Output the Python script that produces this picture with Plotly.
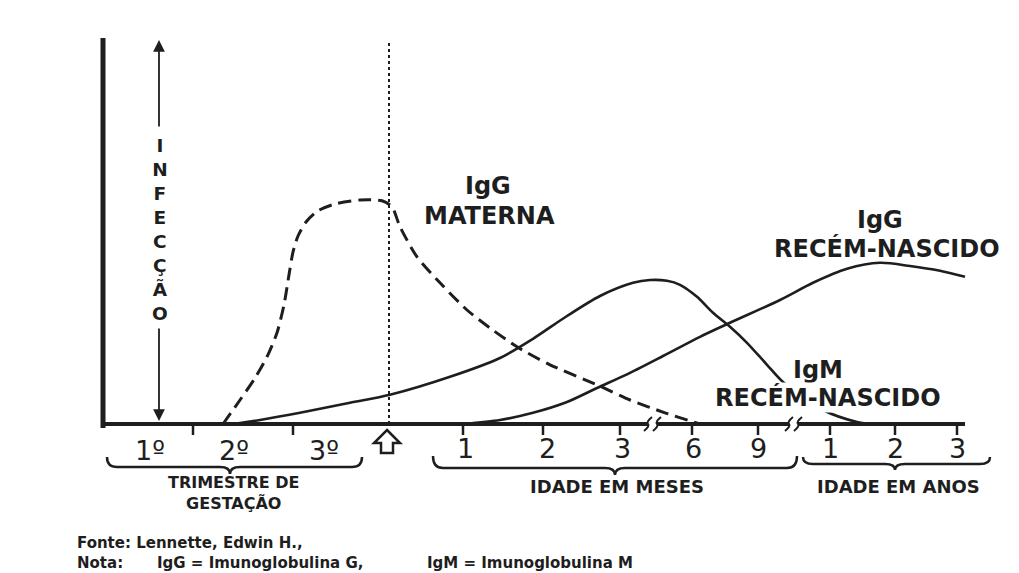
import plotly.graph_objects as go

# ---------------- data (timeline units on x, relative antibody level on y) -------------
igg_materna_x = [12.1, 13.8, 15.3, 16.5, 17.5, 18.2, 18.7, 19.1, 19.6, 20.4, 21.6, 23.3,
                 25.8, 28.0, 29.0, 29.8, 31.5, 33.8, 36.5, 38.8, 41.5, 44.8, 49.5, 52.8,
                 56.3, 59.8]
igg_materna_y = [0, 6, 11.5, 16.8, 22.8, 29.8, 37.3, 43, 47, 50.5, 53.3, 55,
                 56, 55.8, 54.3, 49.3, 41.8, 35.3, 28.5, 24, 19.3, 14.8, 9.8, 6,
                 2.8, 0]

igm_rn_x = [13.1, 15.8, 19.8, 24.8, 28.8, 34.8, 39.8, 43.1, 46.5, 49.8, 53.1, 54.8,
            56.5, 57.8, 59.5, 61.1, 62.8, 64.5, 66.5, 68.1, 72.1, 75.5, 76.8]
igm_rn_y = [0, 1, 2.8, 5.3, 7.3, 11.8, 16.5, 21.3, 27, 32, 35.3, 36,
            35.8, 34.8, 31.8, 27.8, 24.3, 20.3, 14.8, 10.5, 3.5, 0.5, 0]

igg_rn_x = [36.1, 39.8, 43.1, 46.5, 49.5, 52.8, 56.1, 59.8, 62.8, 67.8, 71.1, 74.5,
            77.8, 80.8, 83.8, 86.3]
igg_rn_y = [0, 1, 2.8, 5.5, 9, 12.8, 17, 21.8, 25.3, 31, 35.3, 38.8,
            40.3, 39.5, 38.3, 36.8]

tick_values = [9.1, 19.1, 36.1, 44.1, 51.8, 59.0, 65.6, 72.8, 79.3, 85.5]
trimester_labels = ["1º", "2º", "3º"]
trimester_label_x = [4.8, 13.2, 22.2]
month_labels = ["1", "2", "3", "6", "9"]
month_label_x = [36.3, 44.5, 52.0, 59.1, 65.6]
year_labels = ["1", "2", "3"]
year_label_x = [72.8, 79.3, 85.5]
birth_x = 28.7
infeccao_letters = ["I", "N", "F", "E", "C", "Ç", "Ã", "O"]

# ---------------- helpers for layout placement (page pixel -> axis units) ----------------
W, H = 1019, 573
PAGE_OFFSET = 8  # default body margin of the html page
def X(px):
    return (px - 102) / 10.0
def Y(py):
    return (424 - py) / 4.0

INK = "#1e1e1e"
FONT = "DejaVu Sans"

fig = go.Figure()

fig.add_trace(go.Scatter(x=igg_materna_x, y=igg_materna_y, mode="lines",
                         line=dict(color=INK, width=3, dash="13px,7px", shape="spline", smoothing=0.7),
                         name="IgG materna", hoverinfo="skip"))
fig.add_trace(go.Scatter(x=igm_rn_x, y=igm_rn_y, mode="lines",
                         line=dict(color=INK, width=2.6, shape="spline", smoothing=0.8),
                         name="IgM recém-nascido", hoverinfo="skip"))
fig.add_trace(go.Scatter(x=igg_rn_x, y=igg_rn_y, mode="lines",
                         line=dict(color=INK, width=2.6, shape="spline", smoothing=0.8),
                         name="IgG recém-nascido", hoverinfo="skip"))

shapes = []
# vertical axis
shapes.append(dict(type="line", xref="x", yref="y", x0=X(103), x1=X(103), y0=Y(428), y1=Y(38),
                   line=dict(color=INK, width=5)))
# baseline
shapes.append(dict(type="line", xref="x", yref="y", x0=X(101), x1=X(965), y0=0, y1=0,
                   line=dict(color=INK, width=4)))
# ticks
for tv in tick_values:
    shapes.append(dict(type="line", xref="x", yref="y", x0=tv, x1=tv, y0=0, y1=Y(435),
                       line=dict(color=INK, width=2.5)))
# axis breaks
for bx in (648, 789):
    shapes.append(dict(type="rect", xref="x", yref="y", x0=X(bx), x1=X(bx + 9), y0=Y(419), y1=Y(429),
                       fillcolor="white", line=dict(width=0), layer="above"))
    for dx in (0, 9):
        shapes.append(dict(type="path", xref="x", yref="y",
                           path=f"M {X(bx + dx - 4)},{Y(431)} Q {X(bx + dx + 2)},{Y(426)} {X(bx + dx)},{Y(424)} T {X(bx + dx + 4)},{Y(417)}",
                           line=dict(color=INK, width=2), layer="above"))
# birth dotted line
shapes.append(dict(type="line", xref="x", yref="y", x0=birth_x, x1=birth_x, y0=0, y1=Y(40),
                   line=dict(color=INK, width=2, dash="dot")))

# braces
def brace(xl, xr, xm, yt, yb, ytip, r=10):
    return (f"M {X(xl)},{Y(yt)} Q {X(xl)},{Y(yb)} {X(xl + r)},{Y(yb)} L {X(xm - r)},{Y(yb)} "
            f"Q {X(xm)},{Y(yb)} {X(xm)},{Y(ytip)} Q {X(xm)},{Y(yb)} {X(xm + r)},{Y(yb)} "
            f"L {X(xr - r)},{Y(yb)} Q {X(xr)},{Y(yb)} {X(xr)},{Y(yt)}")
for args in [(107, 362, 230, 457, 467, 474), (433, 797, 615, 456, 468, 475), (803, 990, 895, 457, 464, 470)]:
    shapes.append(dict(type="path", xref="x", yref="y", path=brace(*args),
                       line=dict(color=INK, width=2.5)))

# birth arrow (hollow)
pts = [(387, 430), (400, 443), (393, 443), (393, 453), (381, 453), (381, 443), (374, 443)]
path = "M " + " L ".join(f"{X(a)},{Y(b)}" for a, b in pts) + " Z"
shapes.append(dict(type="path", xref="x", yref="y", path=path, fillcolor="white",
                   line=dict(color=INK, width=2.5)))

ann = []
def text(x, y, s, size, bold=True, anchor="center", bg=None, yanchor="middle"):
    d = dict(x=x, y=y, xref="x", yref="y", text=(f"<b>{s}</b>" if bold else s), showarrow=False,
             xanchor=anchor, yanchor=yanchor, font=dict(family=FONT, size=size, color=INK))
    if bg:
        d["bgcolor"] = bg
        d["borderpad"] = 0
    ann.append(d)

# INFECÇÃO vertical label with double arrow
text(X(160), Y(229), "<br>".join(infeccao_letters), 18.5)
for head, tail in ((40, 128), (421, 327)):
    ann.append(dict(x=X(159), y=Y(head), ax=X(159), ay=Y(tail), xref="x", yref="y", axref="x", ayref="y",
                    text="", showarrow=True, arrowhead=2, arrowsize=1.3, arrowwidth=1.8, arrowcolor=INK))

# curve labels
text(X(488), Y(186), "IgG", 24)
text(X(489), Y(216), "MATERNA", 24)
text(X(880), Y(220), "IgG", 24)
text(X(887), Y(248), "RECÉM-NASCIDO", 24)
text(X(818), Y(370), "IgM", 24, bg="white")
text(X(828), Y(397), "RECÉM-NASCIDO", 24, bg="white")

# tick labels
for lab, lx in zip(trimester_labels, trimester_label_x):
    text(lx, Y(450), lab, 27, bold=False)
for lab, lx in zip(month_labels + year_labels, month_label_x + year_label_x):
    text(lx, Y(448), lab, 27, bold=False)

# group labels
text(X(234), Y(493), "TRIMESTRE DE<br>GESTAÇÃO", 16)
text(X(617), Y(486), "IDADE EM MESES", 18)
text(X(898), Y(486), "IDADE EM ANOS", 18)

# source / note
text(X(75), Y(543), "Fonte: Lennette, Edwin H.,", 15, anchor="left")
text(X(75), Y(563), "Nota:", 15, anchor="left")
text(X(155), Y(563), "IgG = Imunoglobulina G,", 15, anchor="left")
text(X(425), Y(563), "IgM = Imunoglobulina M", 15, anchor="left")

fig.update_layout(
    width=W - PAGE_OFFSET, height=H - PAGE_OFFSET,
    margin=dict(l=0, r=0, t=0, b=0),
    paper_bgcolor="white", plot_bgcolor="white",
    showlegend=False,
    xaxis=dict(range=[X(PAGE_OFFSET), X(W)], visible=False, fixedrange=True),
    yaxis=dict(range=[Y(H), Y(PAGE_OFFSET)], visible=False, fixedrange=True),
    shapes=shapes, annotations=ann,
)

fig.write_html("out.html")
